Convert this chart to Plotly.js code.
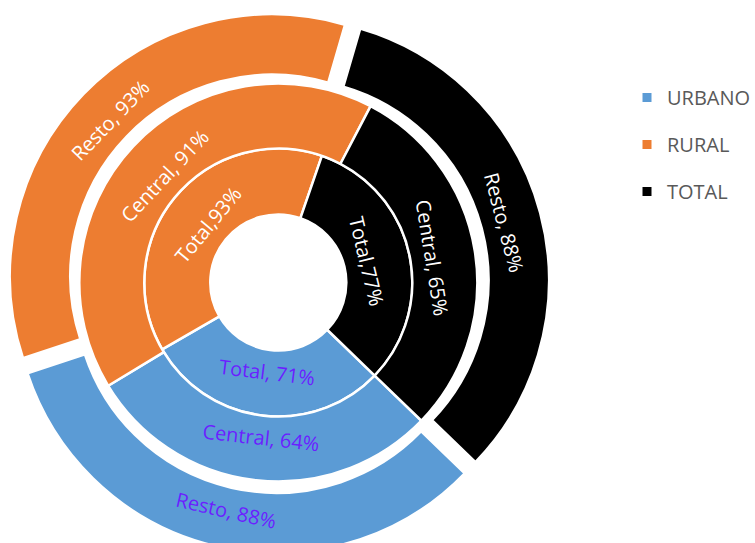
<!DOCTYPE html>
<html>
<head>
<meta charset="utf-8">
<script src="https://cdn.plot.ly/plotly-3.0.1.min.js"></script>
<style>
  html, body { margin: 0; padding: 0; background: #ffffff; overflow: hidden; }
  #chart { width: 820px; height: 600px; }
</style>
</head>
<body>
<div id="chart"></div>
<script>
// ---- data ----
var categories = ["URBANO", "RURAL", "TOTAL"];
var colors = ["#5B9BD5", "#ED7D31", "#000000"];
var textColors = ["#6B1FFF", "#FFFFFF", "#FFFFFF"];

var totalValues   = [71, 93, 77];
var centralValues = [64, 91, 65];
var restoValues   = [88, 93, 88];

var totalText   = ["Total, 71%", "Total,93%", "Total,77%"];
var centralText = ["Central, 64%", "Central, 91%", "Central, 65%"];
var restoText   = ["Resto, 88%", "Resto, 93%", "Resto, 88%"];

// ---- geometry (pixels) ----
// The paper is larger than the 755x543 window; the window crops it like the reference.
var W = 820, H = 600;
var CX = 278.3, CY = 282.5;      // center from top-left
var rings = [
  {values: totalValues,   text: totalText,   rIn: 68,    rOut: 134, pull: 0},
  {values: centralValues, text: centralText, rIn: 134,   rOut: 199, pull: 0},
  {values: restoValues,   text: restoText,   rIn: 201.5, rOut: 262, pull: 9}
];

function domainFor(rOut, pullPx) {
  var pf = pullPx / rOut;
  var half = rOut * (1 + pf);
  var yc = (H - CY) / H;
  return {
    x: [(CX - half) / W, (CX + half) / W],
    y: [yc - half / H, yc + half / H]
  };
}

var data = rings.map(function (rg) {
  var pf = rg.pull / rg.rOut;
  return {
    type: "pie",
    labels: categories,
    values: rg.values,
    text: rg.text,
    textinfo: "text",
    textposition: "inside",
    insidetextorientation: "auto",
    textfont: {family: "Open Sans, sans-serif", size: 20, color: textColors},
    sort: false,
    direction: "clockwise",
    rotation: 134,
    hole: rg.rIn / rg.rOut,
    pull: [pf, pf, pf],
    marker: {colors: colors, line: {color: "#FFFFFF", width: 2.5}},
    domain: domainFor(rg.rOut, rg.pull),
    showlegend: false,
    hoverinfo: "label+value"
  };
});

// legend entries
categories.forEach(function (c, i) {
  data.push({
    type: "scatter",
    mode: "markers",
    x: [null], y: [null],
    name: c,
    legendgroup: c,
    marker: {symbol: "square", size: 9, color: colors[i], line: {width: 0}},
    showlegend: true,
    hoverinfo: "skip"
  });
});

var layout = {
  width: W, height: H,
  autosize: false,
  margin: {l: 0, r: 0, t: 0, b: 0, pad: 0},
  paper_bgcolor: "#ffffff",
  plot_bgcolor: "#ffffff",
  xaxis: {visible: false},
  yaxis: {visible: false},
  showlegend: true,
  legend: {
    x: 627 / W, xanchor: "left",
    y: 1 - 78 / H, yanchor: "top",
    font: {family: "Open Sans, sans-serif", size: 20, color: "#595959"},
    traceorder: "grouped",
    tracegroupgap: 18,
    bgcolor: "rgba(0,0,0,0)"
  }
};

Plotly.newPlot("chart", data, layout, {displayModeBar: false, staticPlot: true});
</script>
</body>
</html>
